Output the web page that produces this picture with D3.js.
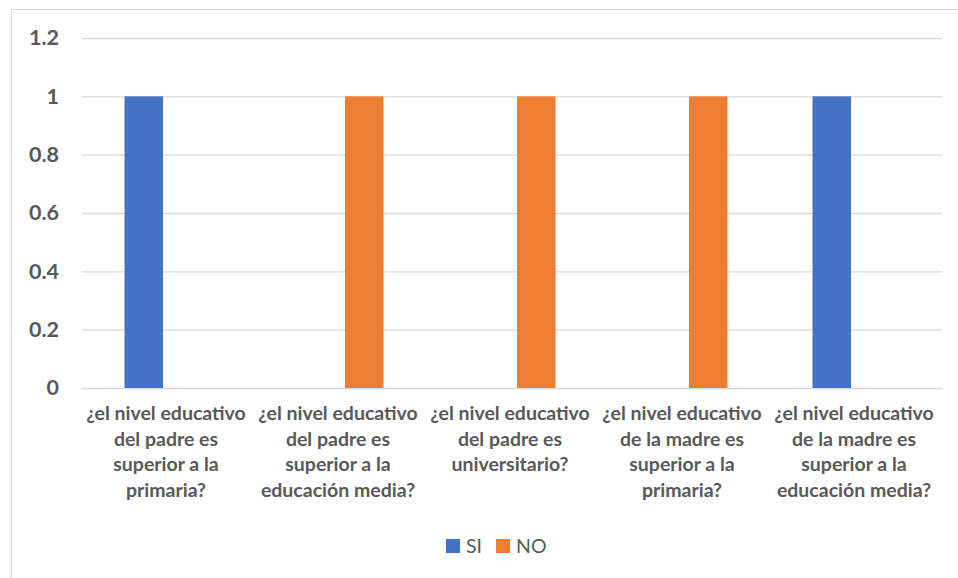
<!DOCTYPE html>
<html>
<head>
<meta charset="utf-8">
<script src="https://cdn.jsdelivr.net/npm/d3@7/dist/d3.min.js"></script>
<style>
  html, body { margin: 0; padding: 0; background: #fff; }
  svg { display: block; }
  text { font-family: Lato, "Open Sans", sans-serif; fill: #595959; }
</style>
</head>
<body>
<svg id="chart" width="958" height="578"></svg>
<script>
const categories = [
  ["¿el nivel educativo", "del padre es", "superior a la", "primaria?"],
  ["¿el nivel educativo", "del padre es", "superior a la", "educación media?"],
  ["¿el nivel educativo", "del padre es", "universitario?"],
  ["¿el nivel educativo", "de la madre es", "superior a la", "primaria?"],
  ["¿el nivel educativo", "de la madre es", "superior a la", "educación media?"]
];
const seriesNames = ["SI", "NO"];
const siValues = [1, 0, 0, 0, 1];
const noValues = [0, 1, 1, 1, 0];
const seriesColors = ["#4472C4", "#ED7D31"];
const yTicks = [0, 0.2, 0.4, 0.6, 0.8, 1, 1.2];
const yTickLabels = ["0", "0.2", "0.4", "0.6", "0.8", "1", "1.2"];

const svg = d3.select("#chart");
const plot = { left: 82, right: 942, top: 38, bottom: 388 };

// chart border
svg.append("rect")
  .attr("x", 11.5).attr("y", 9.5)
  .attr("width", 960).attr("height", 600)
  .attr("fill", "none").attr("stroke", "#d9d9d9").attr("stroke-width", 1);

const catIdx = categories.map((d, i) => i);
const x0 = d3.scaleBand().domain(catIdx).range([plot.left, plot.right]).padding(0);
const x1 = d3.scaleBand().domain(seriesNames).range([0, x0.bandwidth()])
  .paddingInner(0.206).paddingOuter(0.876);
const y = d3.scaleLinear().domain([0, 1.2]).range([plot.bottom, plot.top]);

// gridlines + y labels
const yAxis = d3.axisLeft(y).tickValues(yTicks)
  .tickFormat((d, i) => yTickLabels[i])
  .tickSize(-(plot.right - plot.left)).tickPadding(23);
const gy = svg.append("g").attr("transform", `translate(${plot.left},0)`).call(yAxis);
gy.select(".domain").remove();
gy.selectAll(".tick line").attr("stroke", "#d9d9d9").attr("stroke-width", 1.3);
gy.selectAll(".tick text")
  .style("font-family", "Lato, sans-serif")
  .style("font-weight", "bold").style("font-size", "21.5px").attr("fill", "#595959");

// bars
const seriesData = [siValues, noValues];
seriesNames.forEach((s, si) => {
  svg.append("g").selectAll("rect")
    .data(seriesData[si].map((v, i) => ({ v, i })).filter(d => d.v > 0))
    .join("rect")
    .attr("x", d => x0(d.i) + x1(s))
    .attr("width", x1.bandwidth())
    .attr("y", d => y(d.v))
    .attr("height", d => y(0) - y(d.v))
    .attr("fill", seriesColors[si]);
});

// category labels
const labels = svg.append("g");
categories.forEach((lines, i) => {
  const t = labels.append("text")
    .attr("text-anchor", "middle")
    .style("font-weight", "bold").style("font-size", "19.5px");
  lines.forEach((ln, j) => {
    t.append("tspan").attr("x", x0(i) + x0.bandwidth() / 2 - 2)
      .attr("y", 420 + j * 25.6).text(ln);
  });
});

// legend
const legend = svg.append("g");
const legX = [446, 496];
seriesNames.forEach((s, i) => {
  legend.append("rect").attr("x", legX[i]).attr("y", 539)
    .attr("width", 14).attr("height", 14).attr("fill", seriesColors[i]);
  legend.append("text").attr("x", legX[i] + 20).attr("y", 553)
    .style("font-size", "19.5px").text(s);
});
</script>
</body>
</html>
